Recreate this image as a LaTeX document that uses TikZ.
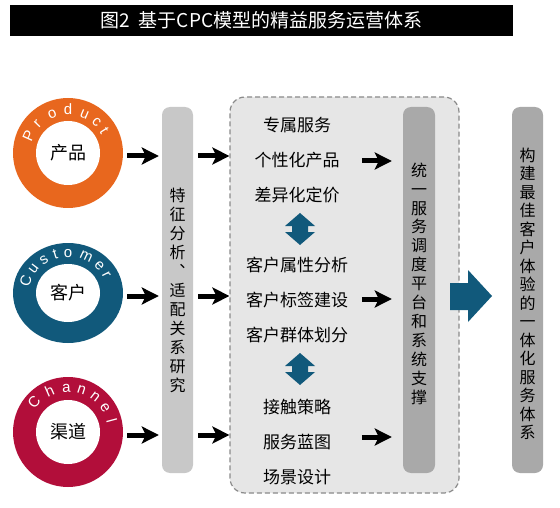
\documentclass[tikz,border=0pt]{standalone}
\usepackage{fontspec}
\setmainfont{Noto Sans CJK SC}
\newfontfamily\latinf{Liberation Sans}
\usetikzlibrary{arrows.meta,shapes.geometric,calc}
\definecolor{corange}{HTML}{E8671E}
\definecolor{cteal}{HTML}{11597B}
\definecolor{cred}{HTML}{B20E3A}
\definecolor{barA}{HTML}{C8C8C8}
\definecolor{barB}{HTML}{A9A9A9}
\definecolor{boxfill}{HTML}{E6E6E6}
\definecolor{boxline}{HTML}{8A8A8A}
\begin{document}
\begin{tikzpicture}[x=1pt,y=-1pt,
  ring/.style={ellipse, fill=#1, minimum width=110pt, minimum height=110pt, inner sep=0},
  hole/.style={ellipse, fill=white, minimum width=64pt, minimum height=64pt, inner sep=0, font=\fontsize{18}{18}\selectfont},
  bar/.style={rounded corners=8pt, fill=#1, minimum width=31pt, minimum height=366pt, inner sep=0},
  vtext/.style={align=center, inner sep=0, font=\fontsize{16}{#1}\selectfont},
  item/.style={inner sep=0, font=\fontsize{17}{17}\selectfont},
  blk/.style={line width=5pt, -{Stealth[length=17pt,width=17pt,inset=4pt]}},
  ringlet/.style={text=white, font=\latinf\fontsize{15}{15}\selectfont, anchor=base, inner sep=0},
  dblarrow/.style={fill=cteal},
]
\useasboundingbox (0,0) rectangle (560,508);

% title
\node[fill=black, minimum width=503pt, minimum height=31pt, inner sep=0, text=white,
      font=\fontsize{19}{19}\selectfont] (title) at (261.5,20.5) {图2\ \ 基于CPC模型的精益服务运营体系};

% rows
\coordinate (row1) at (0,156);
\coordinate (row2) at (0,296);
\coordinate (row3) at (0,435);

% rings
\node[ring=corange] (prod) at (68,153) {};
\node[hole] (prodin) at (prod) {产品};
\node[ring=cteal, minimum height=100pt] (cust) at (68,293) {};
\node[hole, minimum height=58pt] (custin) at (cust) {客户};
\node[ring=cred] (chan) at (68,432) {};
\node[hole] (chanin) at (chan) {渠道};

% ring letters
\foreach \l/\a in {P/156, r/136, o/112, d/90, u/67, c/47, t/32}
  \path (prod) ++({38*cos(\a)},{-38*sin(\a)}) node[ringlet, rotate=\a-90] {\l};
\foreach \l/\a in {C/163, u/143, s/124, t/107, o/90, m/65, e/43, r/27}
  \path (cust) ++({39*cos(\a)},{-36*sin(\a)}) node[ringlet, rotate=\a-90] {\l};
\foreach \l/\a in {C/139, h/114, a/92, n/72, n/52, e/33, l/15}
  \path (chan) ++({40*cos(\a)},{-40*sin(\a)}) node[ringlet, rotate=\a-90] {\l};

% bar 1
\node[bar=barA] (bar1) at (177.5,290) {};
\node[vtext=19pt] (bar1t) at (177.5,290) {特\\征\\分\\析\\︑\\适\\配\\关\\系\\研\\究};

% dashed box
\node[draw=boxline, line width=1.2pt, dash pattern=on 5pt off 3pt, fill=boxfill,
      rounded corners=15pt, minimum width=229pt, minimum height=396pt, inner sep=0] (box) at (344.5,295) {};

% bar 3
\node[bar=barB, minimum width=32pt] (bar3) at (419,290) {};
\node[vtext=18.9pt] (bar3t) at (419,283.5) {统\\一\\服\\务\\调\\度\\平\\台\\和\\系\\统\\支\\撑};

% bar 4
\node[bar=barB] (bar4) at (527.5,290) {};
\node[vtext=18.5pt] (bar4t) at (527.5,294) {构\\建\\最\\佳\\客\\户\\体\\验\\的\\一\\体\\化\\服\\务\\体\\系};

% box items
\node[item] (i1) at (297,125) {专属服务};
\node[item] (i2) at (297,160) {个性化产品};
\node[item] (i3) at (297,195) {差异化定价};
\node[item] (i4) at (297,265) {客户属性分析};
\node[item] (i5) at (297,300) {客户标签建设};
\node[item] (i6) at (297,335) {客户群体划分};
\node[item] (i7) at (297,407) {接触策略};
\node[item] (i8) at (297,442) {服务蓝图};
\node[item] (i9) at (297,477) {场景设计};

% double arrows
\coordinate (d1) at (300,229);
\coordinate (d2) at (300,369);
\foreach \d in {d1,d2}
  \fill[dblarrow] (\d) ++(0,-16) -- ++(15,13) -- ++(-7,0) -- ++(0,6) -- ++(7,0)
     -- ++(-15,13) -- ++(-15,-13) -- ++(7,0) -- ++(0,-6) -- ++(-7,0) -- cycle;

% black arrows: rings -> bar1
\draw[blk] ([xshift=4pt]prod.east |- row1) -- ([xshift=-3pt]bar1.west |- row1);
\draw[blk] ([xshift=4pt]cust.east |- row2) -- ([xshift=-3pt]bar1.west |- row2);
\draw[blk] ([xshift=4pt]chan.east |- row3) -- ([xshift=-3pt]bar1.west |- row3);
% bar1 -> box
\draw[blk] ([xshift=5pt]bar1.east |- row1) -- (box.west |- row1);
\draw[blk] ([xshift=5pt]bar1.east |- row2) -- (box.west |- row2);
\draw[blk] ([xshift=5pt]bar1.east |- row3) -- (box.west |- row3);
% items -> bar3
\draw[blk] ([xshift=-41pt,yshift=-1pt]bar3.west |- i2) -- ([xshift=-11pt,yshift=-1pt]bar3.west |- i2);
\draw[blk] ([xshift=-41pt,yshift=1pt]bar3.west |- i5) -- ([xshift=-11pt,yshift=1pt]bar3.west |- i5);
\draw[blk] ([xshift=-41pt,yshift=5pt]bar3.west |- i8) -- ([xshift=-11pt,yshift=5pt]bar3.west |- i8);

% big teal arrow box -> bar4
\fill[cteal] (450,283) -- (468,283) -- (468,270) -- (492,296) -- (468,322) -- (468,310) -- (450,310) -- cycle;
\end{tikzpicture}
\end{document}
